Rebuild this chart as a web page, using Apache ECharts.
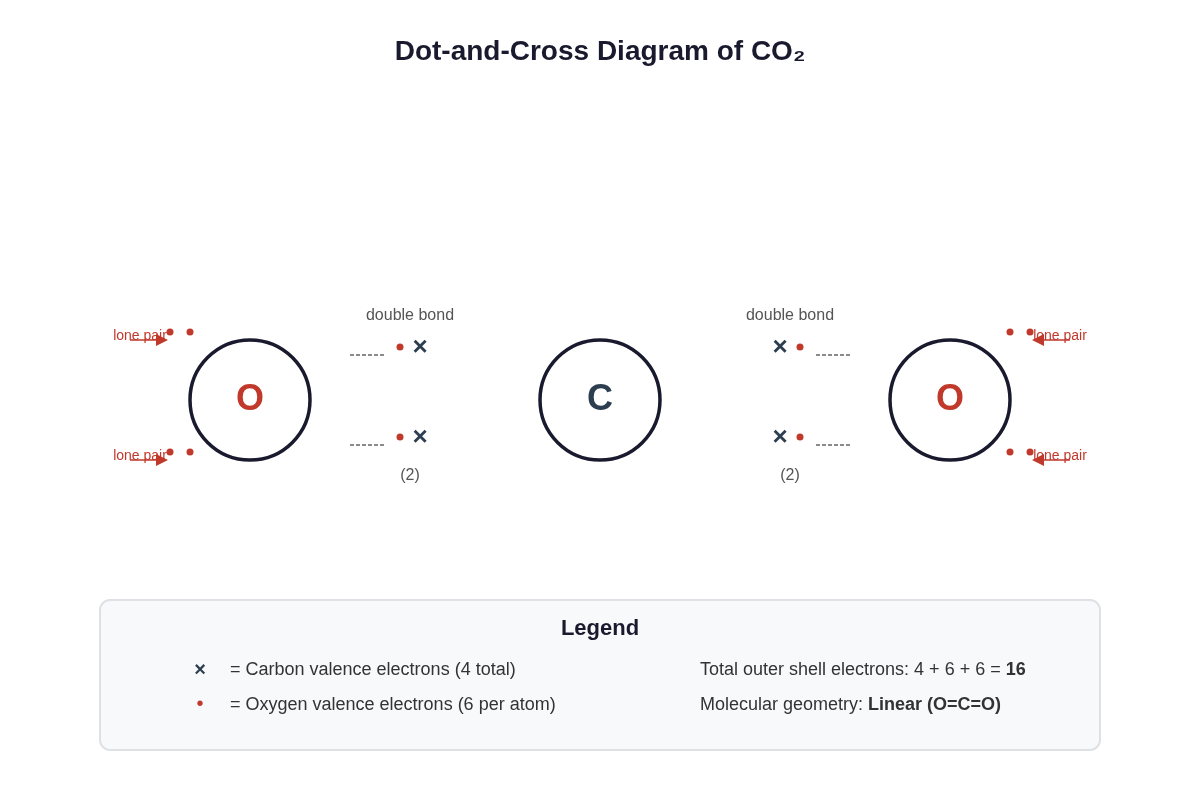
<!DOCTYPE html>
<html><head><meta charset="utf-8">
<style>html,body{margin:0;padding:0;background:#fff}#c{width:1200px;height:800px}</style>
<script src="https://cdn.jsdelivr.net/npm/echarts@6/dist/echarts.min.js"></script>
</head><body><div id="c"></div>
<script>
const titleText = 'Dot-and-Cross Diagram of CO₂';
const atomX = [250, 600, 950];
const atomY = [400, 400, 400];
const atomNames = ['O', 'C', 'O'];
const oxygenDots = [[170,332],[190,332],[170,452],[190,452],[1010,332],[1030,332],[1010,452],[1030,452],[400,347],[400,437],[800,347],[800,437]];
const carbonCrosses = [[420,348],[420,438],[780,348],[780,438]];
const bondDashes = [[[350,355],[384,355]],[[350,445],[384,445]],[[816,355],[850,355]],[[816,445],[850,445]]];
const lonePairArrows = [[[130,340],[162,340]],[[130,460],[162,460]],[[1070,340],[1038,340]],[[1070,460],[1038,460]]];
const lonePairLabels = [[140,336],[140,456],[1060,336],[1060,456]];
const bondLabels = [[410,316,'double bond'],[790,316,'double bond'],[410,476,'(2)'],[790,476,'(2)']];
const legendBox = [[100,600,1100,750]];
const legendTitle = [[600,629,'Legend']];
const legendCross = [[200,670]];
const legendDot = [[200,704]];
const legendLeft = [[230,670,'= Carbon valence electrons (4 total)'],[230,705,'= Oxygen valence electrons (6 per atom)']];
const legendRight = [[700,670,'Total outer shell electrons: 4 + 6 + 6 = {b|16}'],[700,705,'Molecular geometry: {b|Linear (O=C=O)}']];

const FONT = '"Liberation Sans", Arial, sans-serif';
const RED = '#c0392b', NAVY = '#2c3e50', INK = '#1a1a2e';

function textSeries(data, label) {
  return {
    type: 'scatter', symbolSize: 1, z: 5, silent: true,
    itemStyle: { color: 'rgba(0,0,0,0)', opacity: 1 },
    data: data.map(d => ({ value: [d[0], d[1]], text: d[2] })),
    label: Object.assign({
      show: true, position: 'inside', align: 'center', verticalAlign: 'middle',
      fontFamily: FONT, formatter: p => p.data.text
    }, label)
  };
}

const chart = echarts.init(document.getElementById('c'), null, { renderer: 'canvas' });
chart.setOption({
  animation: false,
  backgroundColor: '#ffffff',
  title: {
    text: titleText, left: 'center', top: 33,
    textStyle: { fontFamily: FONT, fontSize: 28, fontWeight: 'bold', color: INK }
  },
  grid: { left: 0, right: 0, top: 0, bottom: 0 },
  xAxis: { type: 'value', min: 0, max: 1200, show: false },
  yAxis: { type: 'value', min: 0, max: 800, inverse: true, show: false },
  series: [
    {
      type: 'custom', z: 1, silent: true, data: legendBox,
      renderItem: (params, api) => {
        const a = api.coord([api.value(0), api.value(1)]);
        const b = api.coord([api.value(2), api.value(3)]);
        return { type: 'rect',
          shape: { x: a[0], y: a[1], width: b[0]-a[0], height: b[1]-a[1], r: 10 },
          style: { fill: '#f8f9fa', stroke: '#dee2e6', lineWidth: 2 } };
      }
    },
    {
      type: 'scatter', z: 2, silent: true, symbol: 'circle', symbolSize: 120,
      itemStyle: { color: '#ffffff', borderColor: INK, borderWidth: 3.5, opacity: 1 },
      data: atomX.map((x, i) => ({
        value: [x, atomY[i]], name: atomNames[i],
        label: { color: atomNames[i] === 'O' ? RED : NAVY }
      })),
      label: { show: true, position: 'inside', formatter: '{b}', fontFamily: FONT, fontSize: 36, fontWeight: 'bold', offset: [0, 0] }
    },
    {
      type: 'scatter', z: 4, silent: true, symbol: 'circle', symbolSize: 7,
      itemStyle: { color: RED, opacity: 1 }, data: oxygenDots
    },
    textSeries(carbonCrosses.map(d => [d[0], d[1], '×']), { fontSize: 26, fontWeight: 'bold', color: NAVY }),
    {
      type: 'lines', coordinateSystem: 'cartesian2d', z: 3, silent: true,
      symbol: ['none', 'none'],
      lineStyle: { color: '#666666', width: 1.5, type: [4, 2], opacity: 1 },
      data: bondDashes.map(c => ({ coords: c }))
    },
    {
      type: 'lines', coordinateSystem: 'cartesian2d', z: 3, silent: true,
      symbol: ['none', 'triangle'], symbolSize: 12,
      lineStyle: { color: RED, width: 1.5, opacity: 1 },
      data: lonePairArrows.map(c => ({ coords: c }))
    },
    textSeries(lonePairLabels.map(d => [d[0], d[1], 'lone pair']), { fontSize: 14, color: RED }),
    textSeries(bondLabels, { fontSize: 16, color: '#555555' }),
    textSeries(legendTitle, { fontSize: 22, fontWeight: 'bold', color: INK }),
    textSeries(legendCross.map(d => [d[0], d[1], '×']), { fontSize: 20, fontWeight: 'bold', color: NAVY }),
    textSeries(legendDot.map(d => [d[0], d[1], '•']), { fontSize: 20, color: RED }),
    textSeries(legendLeft, { fontSize: 18, color: '#333333', align: 'left' }),
    textSeries(legendRight, { fontSize: 18, color: '#333333', align: 'left',
      rich: { b: { fontFamily: FONT, fontSize: 18, fontWeight: 'bold', color: '#333333' } } })
  ]
});
</script></body></html>
